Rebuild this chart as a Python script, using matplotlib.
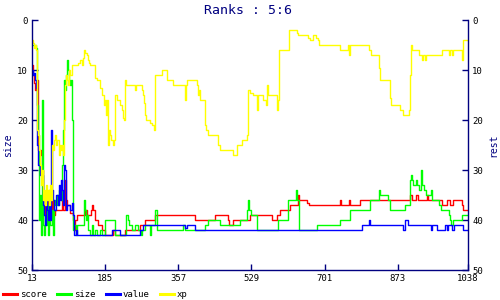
import matplotlib
matplotlib.use('Agg')
import matplotlib.pyplot as plt

# (x, rank) step points
score = [(13, 9), (15, 11), (18, 12.5), (20, 14), (22, 13), (25, 12), (27, 26), (32, 27), (34, 26),
         (37, 30), (39, 37), (41, 39), (44, 35), (46, 38), (48, 35), (51, 37), (53, 34), (55, 38),
         (60, 36), (62, 39), (67, 38), (83, 35), (86, 38), (91, 32), (93, 36), (95, 37), (102, 38.5),
         (109, 40), (112, 42), (114, 40), (119, 39), (138, 38), (142, 39), (152, 38), (154, 37),
         (156, 38), (161, 40), (168, 41), (178, 42), (185, 43), (203, 42), (208, 43), (232, 42),
         (267, 41), (279, 40), (302, 39), (396, 40), (443, 39), (474, 40), (476, 41), (485, 40),
         (526, 39), (578, 40), (589, 39), (596, 38), (620, 37), (638, 35), (640, 36), (659, 36.5),
         (664, 37), (737, 36), (739, 37), (758, 36), (760, 37), (784, 36), (902, 35), (906, 36),
         (916, 35), (920, 36), (941, 35), (944, 36), (977, 37), (988, 36), (996, 37), (1003, 36),
         (1024, 37), (1026, 38), (1038, 38)]

size = [(13, 5), (22, 5.5), (25, 17), (27, 23), (29, 40), (32, 35), (34, 43), (37, 16), (39, 41),
        (41, 43), (44, 39), (46, 41), (48, 37), (51, 43), (53, 36), (55, 41), (60, 38), (62, 43),
        (65, 36), (67, 37), (72, 35), (74, 37), (76, 34), (81, 36), (83, 29), (86, 22), (88, 12),
        (91, 14), (93, 11), (95, 8), (98, 10), (100, 12), (102, 13), (105, 12), (107, 20), (109, 42),
        (112, 41), (116, 43), (119, 41), (135, 36), (138, 38), (140, 40), (142, 39), (145, 42),
        (149, 43), (154, 41), (156, 43), (161, 42), (166, 43), (173, 42), (178, 43), (185, 40),
        (208, 43), (234, 39), (239, 40), (241, 41), (248, 42), (255, 41), (262, 42), (269, 43),
        (272, 42), (279, 41), (290, 43), (293, 41), (302, 38), (307, 42), (368, 41), (373, 42),
        (420, 41), (427, 40), (455, 41), (502, 40), (518, 38), (521, 36), (523, 38), (528, 39),
        (542, 42), (591, 40), (615, 36), (633, 34), (636, 36), (640, 42), (683, 41), (737, 40),
        (760, 38), (808, 36), (829, 34), (831, 35), (850, 36), (855, 38), (890, 37), (902, 32),
        (904, 31), (906, 32), (908, 33), (916, 32), (918, 33), (923, 34), (928, 30), (930, 33),
        (935, 34), (940, 35), (951, 34), (953, 36), (970, 37), (975, 38), (994, 39), (996, 40),
        (999, 41), (1003, 40), (1024, 39), (1038, 39)]

value = [(13, 10), (15, 11), (18, 10.5), (20, 12), (22, 13.5), (25, 25), (27, 29), (32, 31), (34, 30),
         (37, 31), (39, 37), (41, 39), (44, 41), (46, 36), (48, 38), (51, 40), (53, 37), (55, 40),
         (58, 22), (60, 34), (62, 36), (65, 38), (69, 35), (74, 37), (76, 33), (79, 36), (81, 32),
         (83, 34), (86, 37), (88, 29), (91, 30), (93, 38), (95, 37), (102, 38), (107, 36.5),
         (109, 39), (112, 43), (116, 42), (119, 43), (201, 42), (220, 43), (267, 42), (274, 41),
         (373, 41.5), (378, 41), (396, 42), (789, 41), (805, 40), (808, 41), (885, 42), (890, 40),
         (897, 41), (951, 42), (953, 41), (965, 42), (983, 41), (988, 42), (991, 41), (1000, 42),
         (1005, 41), (1026, 42), (1038, 42)]

xp = [(13, 4), (15, 4.5), (18, 5.5), (20, 5), (22, 6), (25, 22), (27, 23), (29, 26), (32, 29),
      (34, 33), (37, 30), (39, 36), (41, 34), (44, 37), (46, 33), (48, 36), (51, 34), (53, 37),
      (55, 33), (58, 36), (60, 25), (62, 26), (65, 24), (67, 23), (69, 25), (72, 24), (76, 27),
      (79, 25), (81, 26), (83, 25), (86, 27), (88, 20), (91, 13), (93, 11), (95, 12), (98, 13),
      (100, 10), (102, 11), (107, 9), (121, 8.5), (126, 8), (131, 9), (133, 7.5), (135, 6),
      (138, 6.5), (142, 7), (145, 8), (147, 8.5), (149, 9), (161, 11.5), (166, 12), (173, 13.5),
      (178, 15), (182, 17), (185, 16), (187, 19), (189, 16), (192, 25), (194, 22), (196, 23),
      (199, 24), (203, 25), (206, 24), (208, 15), (213, 16), (220, 17), (225, 18), (227, 19.5),
      (229, 20), (232, 12), (234, 13), (255, 14), (258, 13), (272, 14), (274, 15), (276, 16.5),
      (279, 19), (281, 20), (290, 20.5), (295, 21), (300, 22), (302, 11), (319, 10), (330, 12),
      (344, 13), (373, 16), (375, 13), (378, 12), (401, 13), (404, 15), (406, 14), (408, 16),
      (420, 21), (422, 22), (427, 23), (450, 25), (455, 26), (485, 27), (495, 25), (506, 24),
      (518, 23), (521, 14), (526, 14.5), (533, 15), (542, 18), (544, 15), (556, 16), (563, 17),
      (566, 13), (568, 15), (589, 18), (591, 16), (594, 6), (617, 2), (636, 2.5), (638, 3),
      (662, 3.5), (666, 4), (673, 3), (680, 3.5), (685, 4), (687, 5), (737, 6), (756, 5), (758, 7),
      (760, 5), (805, 6), (810, 7), (829, 9.5), (831, 12), (855, 15.5), (857, 17), (878, 18),
      (885, 19), (899, 18), (902, 11), (904, 5), (906, 6), (923, 7), (930, 8), (932, 7), (937, 8),
      (939, 7), (977, 6), (994, 7), (996, 6), (1000, 7), (1003, 6), (1024, 8), (1026, 4), (1038, 4)]

series = [('score', score, '#ff0000'), ('size', size, '#00ff00'),
          ('value', value, '#0000ff'), ('xp', xp, '#ffff00')]
x_ticks = [13, 185, 357, 529, 701, 873, 1038]
y_ticks = [0, 10, 20, 30, 40, 50]

navy = '#000080'
mono = 'DejaVu Sans Mono'
plt.rcParams['font.family'] = mono

fig = plt.figure(figsize=(5, 3), dpi=100)
ax = fig.add_axes([0.064, 0.1, 0.872, 0.8333])

for nombre, puntos, color in series:
    xs = [p[0] for p in puntos]
    ys = [p[1] for p in puntos]
    ax.plot(xs, ys, drawstyle='steps-post', color=color, lw=1.0, label=nombre)

ax.set_xlim(13, 1038)
ax.set_ylim(50, 0)
ax.set_xticks(x_ticks)
ax.set_yticks(y_ticks)
ax.tick_params(direction='in', length=4, width=1, color=navy, labelsize=6.5,
               pad=3, right=True, labelright=True)
ax.spines['top'].set_visible(False)
for s in ['left', 'right', 'bottom']:
    ax.spines[s].set_color(navy)
    ax.spines[s].set_linewidth(1)

ax.set_ylabel('size', color=navy, fontsize=7, labelpad=3)
fig.text(0.986, 0.5167, 'rest', rotation=90, ha='center', va='center', color=navy, fontsize=7)
fig.text(0.497, 0.965, 'Ranks : 5:6', ha='center', va='center', color=navy, fontsize=9.5)

leg = fig.legend(loc='center left', bbox_to_anchor=(0.006, 0.0167), ncol=4, frameon=False,
                 fontsize=6.5, handlelength=1.6, handletextpad=0.3, columnspacing=1.1,
                 borderpad=0, borderaxespad=0)
for h in leg.legend_handles:
    h.set_linewidth(2.2)

plt.savefig('out.png', dpi=100)
